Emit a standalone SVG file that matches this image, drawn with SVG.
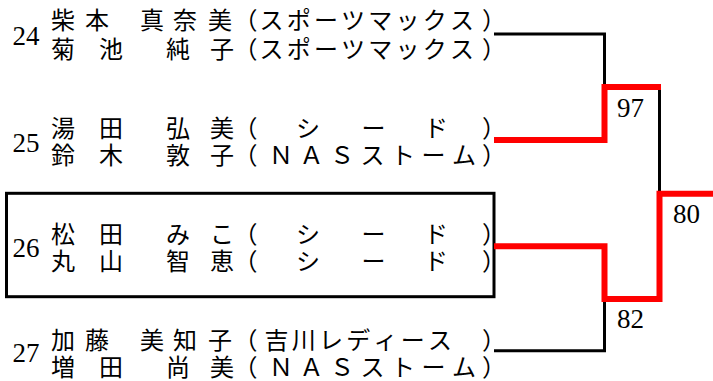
<svg xmlns="http://www.w3.org/2000/svg" width="713" height="381" viewBox="0 0 713 381">
<style>
.jp{font-family:"Noto Sans CJK JP","Liberation Serif",sans-serif;font-size:24px;fill:#000;text-anchor:middle}
.num{font-family:"Liberation Serif",serif;font-size:27px;fill:#000}
.blk{fill:none;stroke:#000;stroke-width:3;stroke-linejoin:miter}
.red{fill:none;stroke:#ff0000;stroke-width:6;stroke-linejoin:miter}
.box{fill:none;stroke:#000;stroke-width:3}
</style>
<rect width="713" height="381" fill="#fff"/>
<g id="entry-24">
<text class="num" x="12.5" y="45">24</text>
<text class="jp" x="63 97 152 185 220 245.5 271.5 298.7 325.9 353.1 380.3 407.5 434.7 461.9 494" y="29">柴本真奈美（スポーツマックス）</text>
<text class="jp" x="63 111 178 222 245.5 271.5 298.7 325.9 353.1 380.3 407.5 434.7 461.9 494" y="57.5">菊池純子（スポーツマックス）</text>
</g>
<g id="entry-25">
<text class="num" x="12.5" y="152">25</text>
<text class="jp" x="63 111 178 222 245.5 308 373.5 436 494" y="136.5">湯田弘美（シード）</text>
<text class="jp" x="63 111 178 222 245.5 281 311.5 342 372.5 403 433.5 464 494" y="163.5">鈴木敦子（ＮＡＳストーム）</text>
</g>
<g id="entry-26">
<rect class="box" x="6.5" y="193.3" width="487.5" height="103.4"/>
<text class="num" x="12.5" y="257">26</text>
<text class="jp" x="63 111 178 222 245.5 308 373.5 436 494" y="243">松田みこ（シード）</text>
<text class="jp" x="63 111 178 222 245.5 308 373.5 436 494" y="270">丸山智恵（シード）</text>
</g>
<g id="entry-27">
<text class="num" x="12.5" y="362">27</text>
<text class="jp" x="63 97 152 185 220 245.5 276.5 303.75 331 358.25 385.5 412.75 440 494" y="349">加藤美知子（吉川レディース）</text>
<text class="jp" x="63 111 178 222 245.5 281 311.5 342 372.5 403 433.5 464 494" y="376">増田尚美（ＮＡＳストーム）</text>
</g>
<g id="connectors">
<path class="blk" d="M494 34 H604.5 V87"/>
<path class="blk" d="M659.5 87 V193.7"/>
<path class="blk" d="M494 350.7 H604.5 V299"/>
<path class="red" d="M494 140 H604.5 V87 H661"/>
<path class="red" d="M494 246.3 H604.5 V299 H659.5 V193.7 H713"/>
</g>
<g id="scores">
<text class="num" x="617" y="117">97</text>
<text class="num" x="673" y="223">80</text>
<text class="num" x="617" y="328">82</text>
</g>
</svg>
